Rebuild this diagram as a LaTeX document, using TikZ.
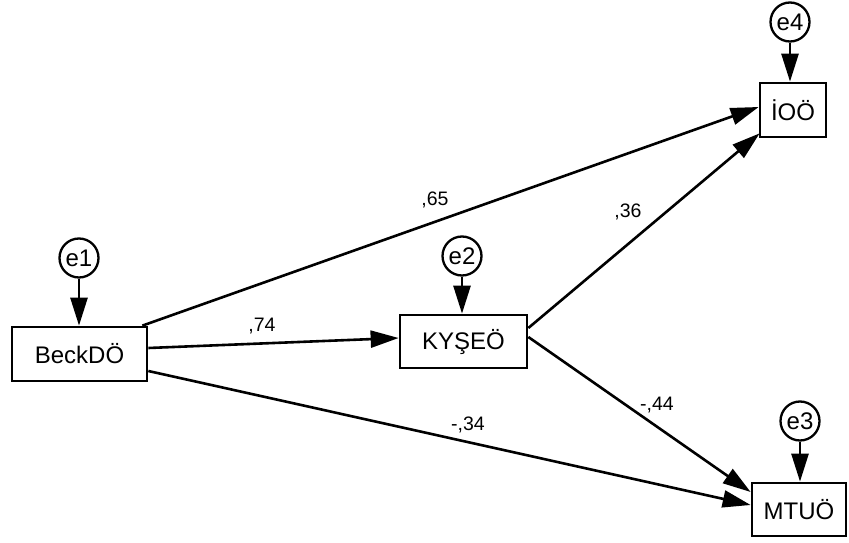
\documentclass[tikz,border=0pt]{standalone}
\usepackage{fontspec}
\setmainfont{Liberation Sans}
\usetikzlibrary{arrows.meta,calc}
\begin{document}
\begin{tikzpicture}[x=1pt,y=1pt,
  obs/.style={draw, line width=2.7pt, rectangle, inner sep=0pt, fill=white,
    font=\fontsize{24}{28}\selectfont},
  err/.style={draw, line width=2.3pt, circle, minimum size=39pt, inner sep=0pt,
    font=\fontsize{24}{28}\selectfont},
  path/.style={line width=2.6pt, -{Triangle[length=28pt,width=17pt]}},
  coef/.style={font=\fontsize{19.5}{22}\selectfont, inner sep=0pt}]
\useasboundingbox (0,0) rectangle (849,542);
\fill[white] (0,0) rectangle (849,542);

% observed variables
\node[obs, minimum width=135pt, minimum height=54pt] (beck) at (79.5,188) {BeckDÖ};
\node[obs, minimum width=127pt, minimum height=53pt] (kys) at (463.5,200.5) {KYŞEÖ};
\node[obs, minimum width=66pt, minimum height=54pt] (ioo) at (793,432) {İOÖ};
\node[obs, minimum width=94pt, minimum height=53pt] (mtu) at (799,32.5) {MTUÖ};

% error terms
\node[err] (e1) at (79,284) {e1};
\node[err] (e2) at (462,286) {e2};
\node[err] (e4) at (790,520) {e4};
\node[err] (e3) at (800,121) {e3};

\draw[path] (e1) -- (beck.north -| e1);
\draw[path] (e2) -- (kys.north -| e2);
\draw[path] (e4) -- (ioo.north -| e4);
\draw[path] (e3) -- (mtu.north -| e3);

% structural paths
\draw[path] ($(beck.north east)+(-6,0)$) -- ($(ioo.west)+(0,3)$);
\draw[path] ($(beck.east)+(0,6)$) -- ($(kys.west)+(0,3.5)$);
\draw[path] ($(beck.east)+(0,-17)$) -- ($(mtu.west)+(0,4.5)$);
\draw[path] ($(kys.east)+(0,13.5)$) -- ($(ioo.south west)+(1,5)$);
\draw[path] ($(kys.east)+(0,4.5)$) -- ($(mtu.west)+(0,17.5)$);

% path coefficients
\node[coef] (c65) at (435,342) {,65};
\node[coef] (c74) at (262,216) {,74};
\node[coef] (c36) at (628,330) {,36};
\node[coef] (c44) at (657,137) {-,44};
\node[coef] (c34) at (468,117) {-,34};
\end{tikzpicture}
\end{document}
